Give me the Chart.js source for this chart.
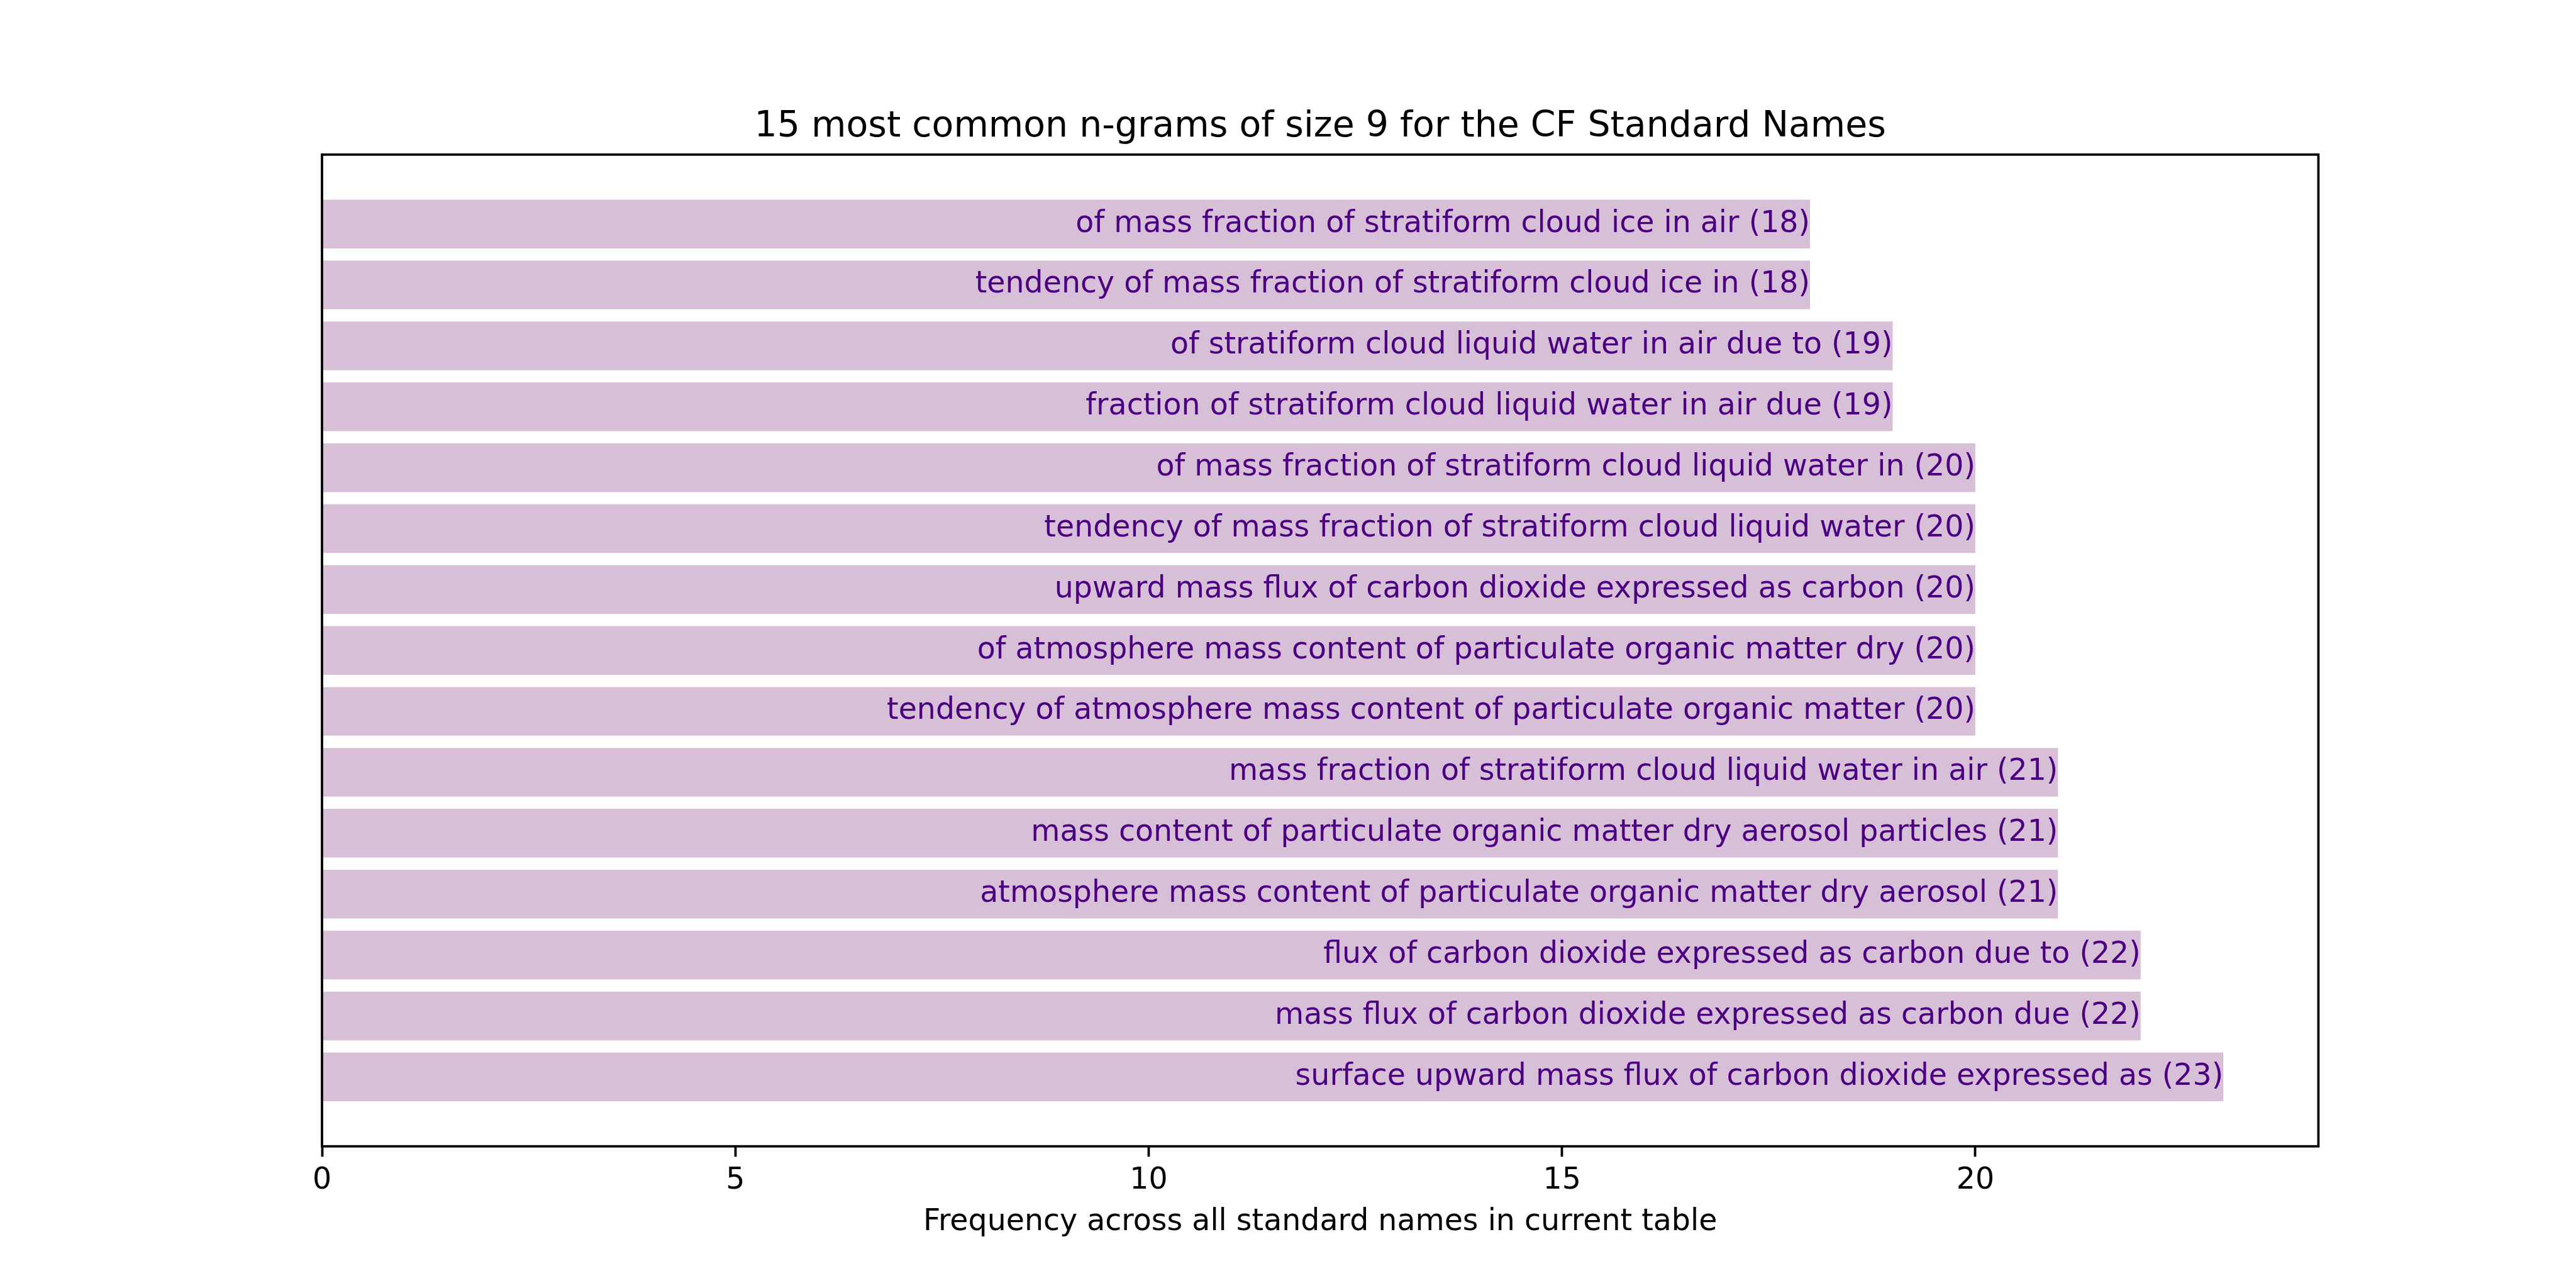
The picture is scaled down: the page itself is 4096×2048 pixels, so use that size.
<!DOCTYPE html>
<html>
<head>
<meta charset="utf-8">
<script src="https://cdn.jsdelivr.net/npm/chart.js@4/dist/chart.umd.min.js"></script>
<style>
  html, body { margin: 0; padding: 0; background: #fff; }
</style>
</head>
<body>
<canvas id="chart" width="4096" height="2048"></canvas>
<script>
// n-grams, bottom bar first
const ngrams = [
  'surface upward mass flux of carbon dioxide expressed as',
  'mass flux of carbon dioxide expressed as carbon due',
  'flux of carbon dioxide expressed as carbon due to',
  'atmosphere mass content of particulate organic matter dry aerosol',
  'mass content of particulate organic matter dry aerosol particles',
  'mass fraction of stratiform cloud liquid water in air',
  'tendency of atmosphere mass content of particulate organic matter',
  'of atmosphere mass content of particulate organic matter dry',
  'upward mass flux of carbon dioxide expressed as carbon',
  'tendency of mass fraction of stratiform cloud liquid water',
  'of mass fraction of stratiform cloud liquid water in',
  'fraction of stratiform cloud liquid water in air due',
  'of stratiform cloud liquid water in air due to',
  'tendency of mass fraction of stratiform cloud ice in',
  'of mass fraction of stratiform cloud ice in air'
];
const counts = [23, 22, 22, 21, 21, 21, 20, 20, 20, 20, 20, 19, 19, 18, 18];
const positions = [0, 1, 2, 3, 4, 5, 6, 7, 8, 9, 10, 11, 12, 13, 14];

const titleText = '15 most common n-grams of size 9 for the CF Standard Names';
const xLabel = 'Frequency across all standard names in current table';

const k = 4096 / 4800;   // reference -> window
const font = 'DejaVu Sans';
const lw = 4.44 * k;

Chart.defaults.color = '#000';
Chart.defaults.font.family = font;

// bar labels + axes frame
const barText = {
  id: 'barText',
  afterDatasetsDraw(chart) {
    const ctx = chart.ctx;
    const meta = chart.getDatasetMeta(0);
    ctx.save();
    ctx.font = `${55.6 * k}px "${font}"`;
    ctx.fillStyle = '#4b0082';
    ctx.textAlign = 'right';
    ctx.textBaseline = 'middle';
    meta.data.forEach((bar, i) => {
      ctx.fillText(`${ngrams[i]} (${counts[i]})`, bar.x, bar.y);
    });
    const a = chart.chartArea;
    ctx.strokeStyle = '#000';
    ctx.lineWidth = lw;
    ctx.strokeRect(a.left, a.top, a.right - a.left, a.bottom - a.top);
    ctx.restore();
  }
};

new Chart(document.getElementById('chart'), {
  type: 'bar',
  data: {
    datasets: [{
      data: positions.map((p, i) => ({ x: counts[i], y: p })),
      backgroundColor: '#d8bfd8',
      borderWidth: 0,
      barPercentage: 0.8,
      categoryPercentage: 1
    }]
  },
  options: {
    indexAxis: 'y',
    responsive: false,
    devicePixelRatio: 1,
    animation: false,
    layout: { padding: { left: 512, right: 409.6, top: 0, bottom: 0 } },
    plugins: {
      legend: { display: false },
      tooltip: { enabled: false },
      title: {
        display: true,
        text: titleText,
        color: '#000',
        font: { size: 66.7 * k, weight: 'normal', lineHeight: 1.2 },
        padding: { top: 167.6, bottom: 9.9 }
      }
    },
    scales: {
      x: {
        type: 'linear',
        min: 0,
        max: 24.15,
        ticks: {
          stepSize: 5,
          includeBounds: false,
          padding: 9.5,
          font: { size: 55.6 * k, lineHeight: 1.2 },
          color: '#000'
        },
        grid: {
          display: true,
          drawOnChartArea: false,
          drawTicks: true,
          tickLength: 19.4 * k,
          tickWidth: lw,
          tickColor: '#000'
        },
        border: { display: false },
        title: {
          display: true,
          text: xLabel,
          color: '#000',
          font: { size: 55.6 * k, lineHeight: 1.2 },
          padding: { top: 0, bottom: 75.5 }
        },
        afterFit(scale) { scale.height = 2048 - 2136 * k; }
      },
      y: {
        type: 'linear',
        min: -1.14,
        max: 15.14,
        offset: false,
        display: false
      }
    }
  },
  plugins: [barText]
});
</script>
</body>
</html>
